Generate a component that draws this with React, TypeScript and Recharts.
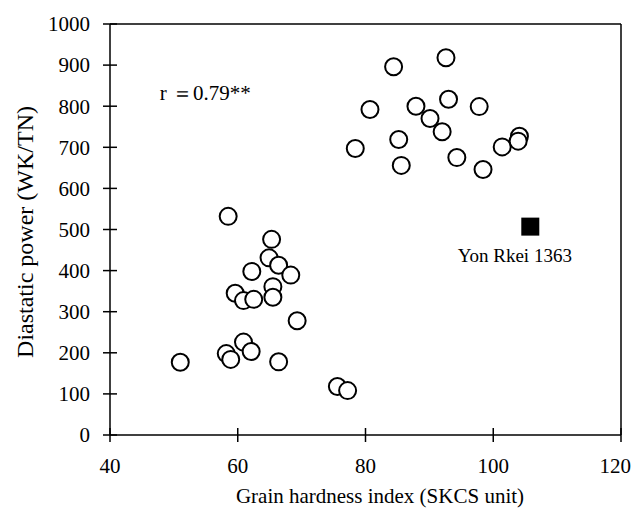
import React from "react";
import {
  ScatterChart,
  Scatter,
  XAxis,
  YAxis,
  ReferenceLine,
  ReferenceDot,
  LabelList,
} from "recharts";

const hardness = [
  92.6, 84.4, 80.7, 87.9, 93.0, 97.8, 90.1, 92.0, 85.2, 78.4, 104.1, 103.9, 101.4, 94.3, 85.6, 98.4,
  58.5, 65.3, 64.9, 66.4, 68.3, 62.2, 65.5, 65.5, 59.6, 60.9, 62.5, 69.3, 60.9, 62.1, 58.2, 58.9,
  51.0, 66.4, 75.6, 77.2,
];
const power = [
  918, 896, 792, 800, 817, 799, 770, 738, 719, 697, 727, 715, 701, 675, 656, 646,
  532, 476, 431, 413, 389, 398, 361, 335, 345, 327, 330, 278, 226, 203, 198, 184,
  177, 178, 118, 108,
];
const specialName = ["Yon Rkei 1363"];
const specialHardness = [105.8];
const specialPower = [507];

const xTicks = [40, 60, 80, 100, 120];
const yTicks = [0, 100, 200, 300, 400, 500, 600, 700, 800, 900, 1000];
const corrText = "r \uFF1D0.79**";
const xTitle = "Grain hardness index (SKCS unit)";
const yTitle = "Diastatic power (WK/TN)";

const mainData = hardness.map((h, i) => ({ x: h, y: power[i] }));
const specialData = specialName.map((n, i) => ({ x: specialHardness[i], y: specialPower[i], name: n }));

const FONT = "'Liberation Serif', 'Times New Roman', serif";

const Circle = (props: any) => (
  <circle cx={props.cx} cy={props.cy} r={8.5} fill="#fff" stroke="#000" strokeWidth={2} />
);
const Square = (props: any) => (
  <rect x={props.cx - 9} y={props.cy - 9} width={18} height={18} fill="#000" />
);

const YTick = (props: any) => {
  const { x, y, payload } = props;
  const ax = x + 20;
  return (
    <g>
      <line x1={ax - 7} x2={ax + 7} y1={y} y2={y} stroke="#000" strokeWidth={1.5} />
      <text x={x} y={y} dy="0.35em" textAnchor="end" fontFamily={FONT} fontSize={21} fill="#000">
        {payload.value}
      </text>
    </g>
  );
};

const XTick = (props: any) => {
  const { x, y, payload, index } = props;
  const last = index === xTicks.length - 1;
  return (
    <g>
      <line x1={x} x2={x} y1={y - 7} y2={y + 7} stroke="#000" strokeWidth={1.5} />
      <text
        x={last ? x + 10 : x}
        y={y + 38}
        textAnchor={last ? "end" : "middle"}
        fontFamily={FONT}
        fontSize={21}
        fill="#000"
      >
        {payload.value}
      </text>
    </g>
  );
};

export default function App() {
  return (
    <div style={{ position: "absolute", left: 0, top: 0, background: "#fff" }}>
      <ScatterChart
        width={633}
        height={515}
        margin={{ top: 24, right: 12, bottom: 0, left: 0 }}
      >
        <XAxis
          type="number"
          dataKey="x"
          domain={[40, 120]}
          ticks={xTicks}
          tickLine={false}
          tickSize={0}
          tickMargin={0}
          tick={<XTick />}
          height={80}
          axisLine={{ stroke: "#000", strokeWidth: 1.5 }}
          label={{
            content: () => (
              <text x={380} y={503} textAnchor="middle" fontFamily={FONT} fontSize={21} fill="#000">
                {xTitle}
              </text>
            ),
          }}
        />
        <YAxis
          type="number"
          dataKey="y"
          domain={[0, 1000]}
          ticks={yTicks}
          tickLine={false}
          tickSize={0}
          tickMargin={20}
          tick={<YTick />}
          width={110}
          axisLine={{ stroke: "#000", strokeWidth: 1.5 }}
          label={{
            content: () => (
              <text
                x={25}
                y={232}
                transform="rotate(-90, 25, 232)"
                textAnchor="middle"
                dominantBaseline="central"
                fontFamily={FONT}
                fontSize={24}
                fill="#000"
              >
                {yTitle}
              </text>
            ),
          }}
        />
        <ReferenceLine y={1000} stroke="#000" strokeWidth={1.5} />
        <ReferenceLine x={120} stroke="#000" strokeWidth={1.5} />
        <ReferenceDot
          x={47.8}
          y={832}
          r={0}
          label={{
            content: (p: any) => (
              <text x={p.viewBox.x} y={p.viewBox.y} dy="0.35em" fontFamily={FONT} fontSize={21} fill="#000">
                {corrText}
              </text>
            ),
          }}
        />
        <Scatter data={mainData} shape={<Circle />} isAnimationActive={false} />
        <Scatter data={specialData} shape={<Square />} isAnimationActive={false}>
          <LabelList
            dataKey="name"
            content={(p: any) => (
              <text x={p.x - 11} y={p.y + 40} textAnchor="middle" fontFamily={FONT} fontSize={19} fill="#000">
                {p.value}
              </text>
            )}
          />
        </Scatter>
      </ScatterChart>
    </div>
  );
}
